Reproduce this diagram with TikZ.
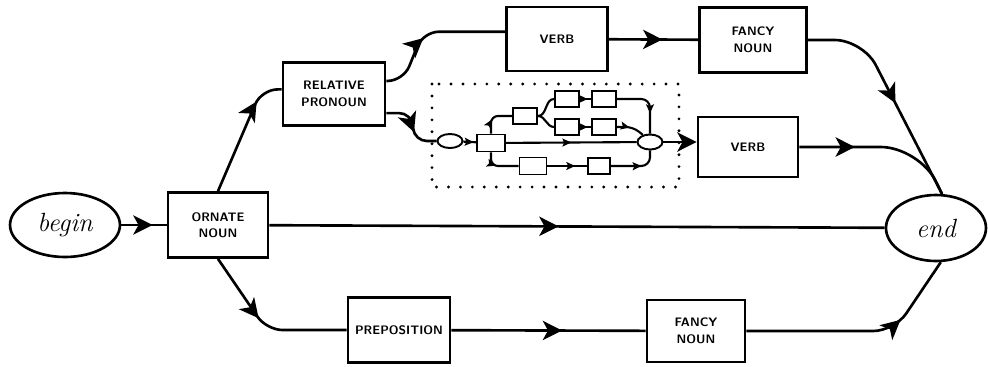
\documentclass[tikz,border=0pt]{standalone}
\usepackage{tikz}
\usetikzlibrary{arrows.meta,positioning,shapes.geometric,decorations.markings}
\tikzset{
  wbox/.style={draw, line width=1.6pt, fill=white, font=\sffamily\bfseries\fontsize{7}{9.4}\selectfont,
               align=center, inner sep=1pt, minimum width=2.04cm, minimum height=1.28cm},
  term/.style={draw, ellipse, line width=1.5pt, fill=white, font=\fontsize{15}{18}\selectfont\itshape,
               inner sep=0pt, minimum width=2.1cm, minimum height=1.3cm},
  sbox/.style={draw, line width=1.1pt, fill=white, inner sep=0pt,
               minimum width=0.48cm, minimum height=0.31cm},
  sell/.style={draw, ellipse, line width=1.1pt, fill=white, inner sep=0pt,
               minimum width=0.5cm, minimum height=0.28cm},
  conn/.style={line width=1.5pt},
  sline/.style={line width=1.2pt},
  midarrow/.style={postaction={decorate}, decoration={markings,
               mark=at position #1 with {\arrow{Stealth[length=11pt, width=11pt, inset=3pt]}}}},
  smallarrow/.style={postaction={decorate}, decoration={markings,
               mark=at position #1 with {\arrow{Stealth[length=5pt, width=4.5pt, inset=1pt]}}}},
  dotframe/.style={line width=1.8pt, line cap=round, dash pattern=on 0pt off 6.8pt},
}
\begin{document}
\begin{tikzpicture}[x=0.02cm, y=-0.02cm]
\useasboundingbox (0,0) rectangle (988,366);

% Sub-network frame
\draw[dotframe] (432,84) rectangle (679,187);

% Main nodes
\node[term, minimum width=2.2cm, minimum height=1.28cm] (begin) at (65,225) {begin};
\node[term, minimum width=2cm, minimum height=1.32cm] (end) at (936,228) {end};
\node[wbox, minimum width=2cm, minimum height=1.3cm] (ornate) at (218,225) {ORNATE\\NOUN};
\node[wbox, minimum height=1.26cm] (relative) at (334,94) {RELATIVE\\PRONOUN};
\node[wbox, minimum width=2.02cm] (verb1) at (557,39) {VERB};
\node[wbox, minimum width=2.14cm, minimum height=1.3cm] (fancy1) at (753,40) {FANCY\\NOUN};
\node[wbox, minimum width=2cm, minimum height=1.2cm] (verb2) at (748,147) {VERB};
\node[wbox, minimum height=1.3cm] (prep) at (399,330) {PREPOSITION};
\node[wbox, minimum width=1.96cm, minimum height=1.24cm] (fancy2) at (696,331) {FANCY\\NOUN};

% Sub-network nodes
\node[sell] (sin) at (450,141) {};
\node[sbox, minimum width=0.56cm, minimum height=0.34cm] (b1) at (491,143) {};
\node[sbox] (b2) at (525,116) {};
\node[sbox] (b3) at (567,99) {};
\node[sbox] (b4) at (604,99) {};
\node[sbox] (b5) at (567,127) {};
\node[sbox] (b6) at (604,127) {};
\node[sbox, minimum width=0.54cm, minimum height=0.34cm] (b7) at (533,166) {};
\node[sbox, minimum width=0.44cm] (b8) at (599,166) {};
\node[sell, minimum height=0.3cm] (sout) at (650,142) {};

% Main connectors
\draw[conn, midarrow=0.69] (begin) -- (ornate);
\draw[conn, rounded corners=9pt, midarrow=0.77] (ornate.north) -- ([shift={(-20,0)}]relative.175) -- (relative.175);
\draw[conn, rounded corners=9pt, midarrow=0.42] (relative.14) -- ++(17,0) -- ([shift={(-82,0)}]verb1.172) -- (verb1.172);
\draw[conn, midarrow=0.6] (verb1) -- (fancy1);
\draw[conn, rounded corners=16pt, midarrow=0.54] (fancy1.east) -- ++(55,0) -- (end.80);
\draw[conn, rounded corners=22pt, midarrow=0.34] (verb2.east) -- ++(120,0) -- (end.80);
\draw[conn, midarrow=0.47] (ornate) -- (end);
\draw[conn, rounded corners=9pt, midarrow=0.44] (ornate.south) -- ([shift={(-80,0)}]prep.west) -- (prep.west);
\draw[conn, midarrow=0.57] (prep) -- (fancy2);
\draw[conn, rounded corners=12pt, midarrow=0.69] (fancy2.east) -- ++(148,0) -- (end.-82);

% Into and out of the sub-network
\draw[conn, rounded corners=7pt, midarrow=0.6] (relative.-20) -- ++(25,0) -- ([shift={(-22,0)}]sin.west) -- (sin.west);
\draw[conn, -{Stealth[length=11pt, width=11pt, inset=3pt]}] (sout.east) -- (sout.east -| verb2.west);

% Sub-network connectors
\draw[sline, smallarrow=0.8] (sin) -- (b1);
\draw[sline, rounded corners=4pt, smallarrow=0.4] (b1.north) |- (b2.west);
\draw[sline] (b2.east) to[out=0, in=180] (b3.west);
\draw[sline] (b2.east) to[out=0, in=180] (b5.west);
\draw[sline, smallarrow=0.7] (b3) -- (b4);
\draw[sline, smallarrow=0.7] (b5) -- (b6);
\draw[sline, rounded corners=5pt, smallarrow=0.68] (b4.east) -| (sout.north);
\draw[sline, rounded corners=4pt, smallarrow=0.45] (b6.east) -- ++(16,0) -- (sout.135);
\draw[sline, smallarrow=0.5] (b1) -- (sout);
\draw[sline, rounded corners=4pt, smallarrow=0.4] (b1.south) |- (b7.west);
\draw[sline, smallarrow=0.7] (b7) -- (b8);
\draw[sline, rounded corners=5pt, smallarrow=0.6] (b8.east) -| (sout.south);

\end{tikzpicture}
\end{document}
